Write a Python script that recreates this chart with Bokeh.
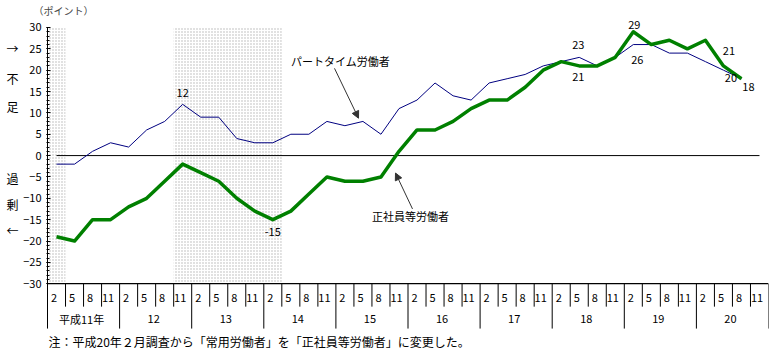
from bokeh.plotting import figure
from bokeh.models import (Range1d, FixedTicker, Label, Arrow, NormalHead,
                          LinearAxis, Title)
from bokeh.embed import file_html
from bokeh.resources import INLINE

# ---------------- data ----------------
years = ["平成11年", "12", "13", "14", "15", "16", "17", "18", "19", "20"]
months = ["2", "5", "8", "11"]
part_time = [-2, -2, 1, 3, 2, 6, 8, 12, 9, 9, 4, 3, 3, 5, 5, 8, 7, 8, 5, 11,
             13, 17, 14, 13, 17, 18, 19, 21, 22, 23, 21, 23, 26, 26, 24, 24,
             22, 20, 18]
regular = [-19, -20, -15, -15, -12, -10, -6, -2, -4, -6, -10, -13, -15, -13,
           -9, -5, -6, -6, -5, 1, 6, 6, 8, 11, 13, 13, 16, 20, 22, 21, 21, 23,
           29, 26, 27, 25, 27, 21, 18]
shade_start = [0, 7]   # column index where shaded period starts
shade_end = [1, 13]    # column index where shaded period ends
y_ticks = [-30, -25, -20, -15, -10, -5, 0, 5, 10, 15, 20, 25, 30]
side_chars = ["→", "不", "足", "過", "剰", "←"]
side_pos = [25, 18, 11.5, -5.25, -11.5, -17.5]   # y positions (points)
unit_text = "（ポイント）"
note = "注：平成20年２月調査から「常用労働者」を「正社員等労働者」に変更した。"

# ---------------- layout helpers ----------------
FONT = "Noto Sans CJK JP"
W, H = 775, 354
AXIS_PX, FL, FR, FT, FB = 47, 46, 768, 17, 354
Y0PX, Y1PX = 26, 283          # screen y of +30 and -30
PXU = (Y1PX - Y0PX) / 60.0    # px per unit
NCOL = len(years) * len(months)
XU = (FR - AXIS_PX) / NCOL


def yd(py):
    return 30 - (py - Y0PX) / PXU


def xd(px):
    return (px - AXIS_PX) / XU


p = figure(width=W, height=H, output_backend="svg", toolbar_location=None,
           x_range=Range1d(xd(FL), xd(FR)), y_range=Range1d(yd(FB), yd(FT)),
           x_axis_location=None, min_border_left=FL,
           min_border_right=W - FR, min_border_top=FT, min_border_bottom=0)
p.outline_line_color = None
p.grid.visible = False
p.background_fill_color = "white"
p.border_fill_color = "white"

p.add_layout(Title(text=unit_text, align="left", offset=-13,
                   text_font=FONT, text_font_size="10px",
                   text_font_style="normal", standoff=1), "above")

# shaded periods
p.quad(left=shade_start, right=shade_end, bottom=-30, top=30,
       fill_color="#ffffff", line_color=None,
       hatch_pattern="dot", hatch_color="#b4b4b4", hatch_scale=3,
       hatch_weight=1)

# y axis (numbers)
ax = p.yaxis[0]
ax.ticker = FixedTicker(ticks=y_ticks, minor_ticks=list(range(-30, 31)))
ax.axis_line_color = None
ax.major_tick_in = 4
ax.major_tick_out = 0
ax.minor_tick_in = 3
ax.minor_tick_out = 0
ax.major_label_standoff = 5
ax.major_label_text_font = FONT
ax.major_label_text_font_size = "11px"
ax.major_label_text_color = "black"
ax.major_tick_line_color = "black"
ax.minor_tick_line_color = "black"

# second left axis carrying the vertical 不足 / 過剰 words
ax2 = LinearAxis(ticker=FixedTicker(ticks=side_pos, minor_ticks=[]),
                 major_label_overrides=dict(zip(side_pos, side_chars)),
                 axis_line_color=None, major_tick_line_color=None,
                 major_tick_in=0, major_tick_out=0, major_label_standoff=2,
                 major_label_text_font=FONT,
                 major_label_text_font_size="12px",
                 major_label_text_color="black")
p.add_layout(ax2, "left")

xc = [i + 0.5 for i in range(NCOL)]
tbl_bottom = yd(328)

# left border line of plot + table
p.line([0, 0], [30, tbl_bottom], line_color="black", line_width=1)

# zero line across the data span
p.line([xc[0], xc[-1]], [0, 0], line_color="black", line_width=1)

# bottom table: axis line, separators, labels
p.line([0, NCOL], [-30, -30], line_color="black", line_width=1.2)
month_sep_x = [i for i in range(NCOL + 1) if i % len(months) != 0]
year_sep_x = [i for i in range(len(months), NCOL + 1, len(months))]
p.segment(x0=month_sep_x, x1=month_sep_x, y0=-30, y1=yd(306),
          line_color="black", line_width=1)
p.segment(x0=year_sep_x, x1=year_sep_x, y0=-30, y1=tbl_bottom,
          line_color="black", line_width=1)

month_labels = [m for _ in years for m in months]
p.text(x=xc, y=[yd(297)] * NCOL, text=month_labels, x_offset=-2.5,
       text_align="center", text_baseline="middle",
       text_font={"value": FONT}, text_font_size="11px", text_color="black")
year_x = [i * len(months) + len(months) / 2 for i in range(len(years))]
p.text(x=year_x, y=[yd(318)] * len(years), text=years, x_offset=-2,
       text_align="center", text_baseline="middle",
       text_font={"value": FONT}, text_font_size="11px", text_color="black")

# series
p.line(xc[:len(part_time)], part_time, line_color="#000080", line_width=1)
p.line(xc[:len(regular)], regular, line_color="#008000", line_width=3.5,
       line_join="round")


# value labels
def vlabel(i, series, dx, dy):
    p.add_layout(Label(x=xc[i], y=series[i], text=str(series[i]),
                       x_offset=dx, y_offset=dy, text_align="center",
                       text_baseline="middle", text_font=FONT,
                       text_font_size="11px", text_color="black"))


vlabel(7, part_time, 0, 11)
vlabel(12, regular, 0, -12)
vlabel(29, part_time, -1, 12)
vlabel(29, regular, -1, -11)
vlabel(32, regular, 1, 7)
vlabel(32, part_time, 4, -15)
vlabel(37, regular, 5.5, 14.5)
vlabel(37, part_time, 7.5, -8)
vlabel(38, regular, 7, -8)


# series annotations with arrows
def note_label(px, py, text, align="center", size="11px"):
    p.add_layout(Label(x=xd(px), y=yd(py), text=text, text_align=align,
                       text_baseline="middle", text_font=FONT,
                       text_font_size=size, text_color="black"))


note_label(340, 60, "パートタイム労働者")
note_label(410, 215, "正社員等労働者")
for (x0, y0, x1, y1) in [(334, 67, 358, 117), (412, 208, 395, 172)]:
    p.add_layout(Arrow(end=NormalHead(size=7, fill_color="#333333",
                                      line_color="#333333"),
                       x_start=xd(x0), y_start=yd(y0), x_end=xd(x1),
                       y_end=yd(y1), line_color="#333333", line_width=1))

note_label(48, 341, note, "left", "12px")

open("out.html", "w").write(file_html(p, INLINE))
